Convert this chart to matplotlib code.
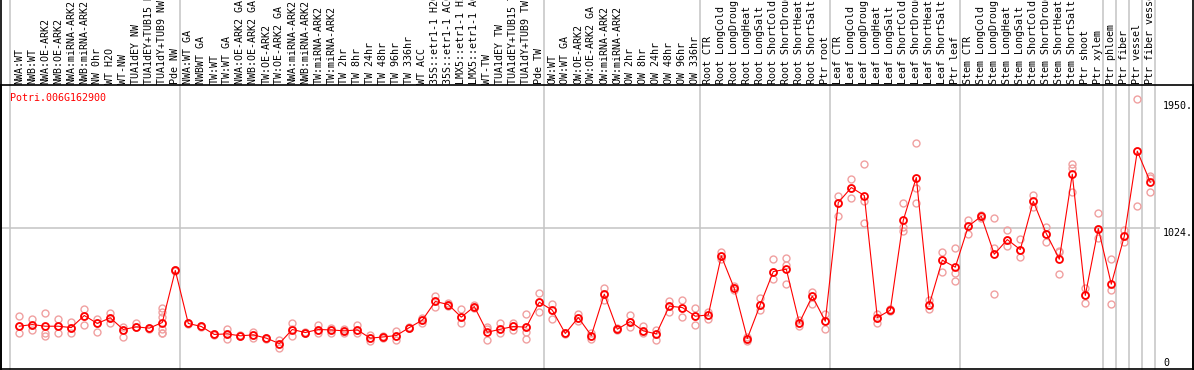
import matplotlib
matplotlib.use("Agg")
import matplotlib.pyplot as plt
from matplotlib.lines import Line2D

gene = "Potri.006G162900"

samples = [
    "NWA:WT", "NWB:WT", "NWA:OE-ARK2", "NWB:OE-ARK2", "NWA:miRNA-ARK2",
    "NWB:miRNA-ARK2", "NW 0hr", "WT H2O", "WT-NW", "TUA1dEY NW",
    "TUA1dEY+TUB15 NW", "TUA1dY+TUB9 NW", "Pde NW",
    "NWA:WT GA", "NWBWT GA", "TW:WT", "TW:WT GA", "NWA:OE-ARK2 GA",
    "NWB:OE-ARK2 GA", "TW:OE-ARK2", "TW:OE-ARK2 GA", "NWA:miRNA-ARK2",
    "NWB:miRNA-ARK2", "TW:miRNA-ARK2", "TW:miRNA-ARK2", "TW 2hr", "TW 8hr",
    "TW 24hr", "TW 48hr", "TW 96hr", "TW 336hr", "WT ACC",
    "35S::etr1-1 H2O", "35S::etr1-1 ACC", "LMX5::etr1-1 H2O",
    "LMX5::etr1-1 ACC", "WT-TW", "TUA1dEY TW", "TUA1dEY+TUB15 TW",
    "TUA1dY+TUB9 TW", "Pde TW",
    "OW:WT", "OW:WT GA", "OW:OE-ARK2", "OW:OE-ARK2 GA", "OW:miRNA-ARK2",
    "OW:miRNA-ARK2", "OW 2hr", "OW 8hr", "OW 24hr", "OW 48hr", "OW 96hr",
    "OW 336hr",
    "Root CTR", "Root LongCold", "Root LongDrought", "Root LongHeat",
    "Root LongSalt", "Root ShortCold", "Root ShortDrought", "Root ShortHeat",
    "Root ShortSalt", "Ptr root",
    "Leaf CTR", "Leaf LongCold", "Leaf LongDrought", "Leaf LongHeat",
    "Leaf LongSalt", "Leaf ShortCold", "Leaf ShortDrought", "Leaf ShortHeat",
    "Leaf ShortSalt", "Ptr leaf",
    "Stem CTR", "Stem LongCold", "Stem LongDrought", "Stem LongHeat",
    "Stem LongSalt", "Stem ShortCold", "Stem ShortDrought", "Stem ShortHeat",
    "Stem ShortSalt", "Ptr shoot", "Ptr xylem", "Ptr phloem", "Ptr fiber",
    "Ptr vessel", "Ptr fiber vessel",
]

means = [
    308, 320, 308, 308, 298, 386, 328, 369, 284, 303, 294, 335, 714,
    328, 306, 248, 252, 238, 245, 221, 182, 284, 262, 284, 281, 274, 281,
    221, 230, 240, 298, 352, 488, 466, 374, 451, 264, 286, 306, 301, 483,
    425, 255, 371, 240, 541, 286, 342, 274, 252, 454, 444, 381,
    390, 820, 583, 218, 466, 706, 723, 332, 527, 344,
    1209, 1318, 1260, 371, 425, 1080, 1391, 466, 789, 738,
    1036, 1109, 832, 939, 866, 1218, 983, 796, 1415, 532, 1019, 614, 963,
    1583, 1357,
]

replicates = [
    [381, 308, 255], [357, 320, 281], [405, 262, 240], [360, 255, 308],
    [340, 262, 298], [431, 320, 386], [357, 269, 328], [405, 335, 369],
    [303, 230, 284], [335, 303, 303], [298, 294, 290],
    [437, 412, 376, 291, 262, 255], [720, 714, 708],
    [334, 328, 322], [310, 306, 302], [248, 252, 244], [291, 218, 252],
    [238, 242, 234], [269, 245, 222], [221, 225, 217], [204, 150, 182],
    [328, 238, 286], [262, 258, 266], [320, 259, 284], [298, 259, 281],
    [290, 255, 274], [316, 259, 281], [245, 197, 221], [230, 225, 235],
    [274, 204, 240], [298, 304, 292], [370, 330, 352], [527, 449, 488],
    [480, 466, 452], [430, 328, 374], [460, 451, 442], [303, 204, 285],
    [330, 259, 286], [335, 281, 306], [400, 267, 218, 301], [553, 415, 483],
    [473, 357, 425], [255, 250, 260], [400, 344, 371], [255, 218, 240],
    [583, 541, 500], [286, 280, 292], [388, 303, 342], [313, 255, 274],
    [281, 204, 252], [490, 412, 454], [502, 376, 444], [437, 320, 381],
    [412, 361, 390], [849, 801, 820], [600, 570, 583], [218, 200, 230],
    [517, 425, 466], [794, 655, 706], [806, 757, 619], [355, 310, 332],
    [558, 473, 527], [400, 291, 344],
    [1257, 1114, 1209], [1379, 1245, 1318], [1488, 1221, 1063],
    [395, 335, 371], [425, 430, 420], [1202, 1027, 1002],
    [1646, 1318, 1209], [502, 432, 466], [849, 701, 789], [881, 696, 634],
    [1085, 976, 1036], [1120, 1109, 1098], [1093, 874, 541],
    [1007, 891, 939], [942, 813, 866], [1262, 1173, 1218],
    [1031, 922, 983], [857, 687, 845], [1493, 1457, 1286],
    [583, 478, 532], [1136, 947, 1019], [796, 570, 473], [1007, 922, 963],
    [1966, 1184, 1583], [1401, 1282, 1388],
]

# vertical separators sit just after these sample indices
group_ends = [12, 40, 52, 62, 72, 83, 84, 85, 86, 87]
ytick_vals = [1950, 1024, 0]
ytick_text = ["1950.", "1024.", "0"]

W, H = 1194, 370
fig = plt.figure(figsize=(W / 100, H / 100), dpi=100)

# pixel geometry of the reference
left_px, right_px = 1, 1193
top_px, bottom_px = 85, 368.5
ax = fig.add_axes([left_px / W, (H - bottom_px) / H,
                   (right_px - left_px) / W, (bottom_px - top_px) / H])

x0, dx = 19.3, 13.0   # pixel x of first sample, spacing
ax.set_xlim((left_px - x0) / dx, (right_px - x0) / dx)
ax.set_ylim(0, (bottom_px - top_px) / 0.1373)
ax.set_xticks([])
ax.set_yticks([])
for s in ax.spines.values():
    s.set_color("black")
    s.set_linewidth(1.2)

grid_c = "#c4c4c4"
ext = bottom_px / (bottom_px - top_px)
seps = [-0.72] + [g + 0.36 for g in group_ends]
for xs in seps:
    ax.axvline(xs, ymin=0, ymax=ext, color=grid_c, lw=1.1, clip_on=False,
               zorder=0)
ax.hlines(1024, ax.get_xlim()[0], (1160 - x0) / dx, color=grid_c, lw=1.1,
          zorder=0)

# left/right frame runs through the label band too
for xf in (left_px / W, right_px / W):
    fig.add_artist(Line2D([xf, xf], [0, 1], color="black", lw=1.2))

pale = "#f0a0a0"
for i, reps in enumerate(replicates):
    ax.plot([i] * len(reps), reps, "o", ms=5, mfc="none", mec=pale,
            mew=1.0, zorder=2)

xs = list(range(len(means)))
ax.plot(xs, means, "-", color="red", lw=0.8, zorder=3)
ax.plot(xs, means, "o", ms=5, mfc="none", mec="red", mew=1.3, zorder=4)

mono = "DejaVu Sans Mono"
ax.text((10 - left_px) / (right_px - left_px),
        1 - (93 - top_px) / (bottom_px - top_px),
        gene, transform=ax.transAxes, color="red", fontsize=7.2,
        family=mono, ha="left", va="top")

for v, t in zip(ytick_vals, ytick_text):
    va = "bottom" if v == 0 else "top"
    ax.text((1163 - left_px) / (right_px - left_px), v, t,
            transform=ax.get_yaxis_transform(), fontsize=7.2, family=mono,
            ha="left", va=va, color="black")

# sample names, rotated, above the plot (long ones run off the top as in the original)
for i, name in enumerate(samples):
    xp = (x0 + dx * i) / W
    fig.text(xp, (H - 83.5) / H, name, rotation=90, ha="center",
             va="bottom", fontsize=7.2, family=mono, color="black")

fig.savefig("out.png", dpi=100)
